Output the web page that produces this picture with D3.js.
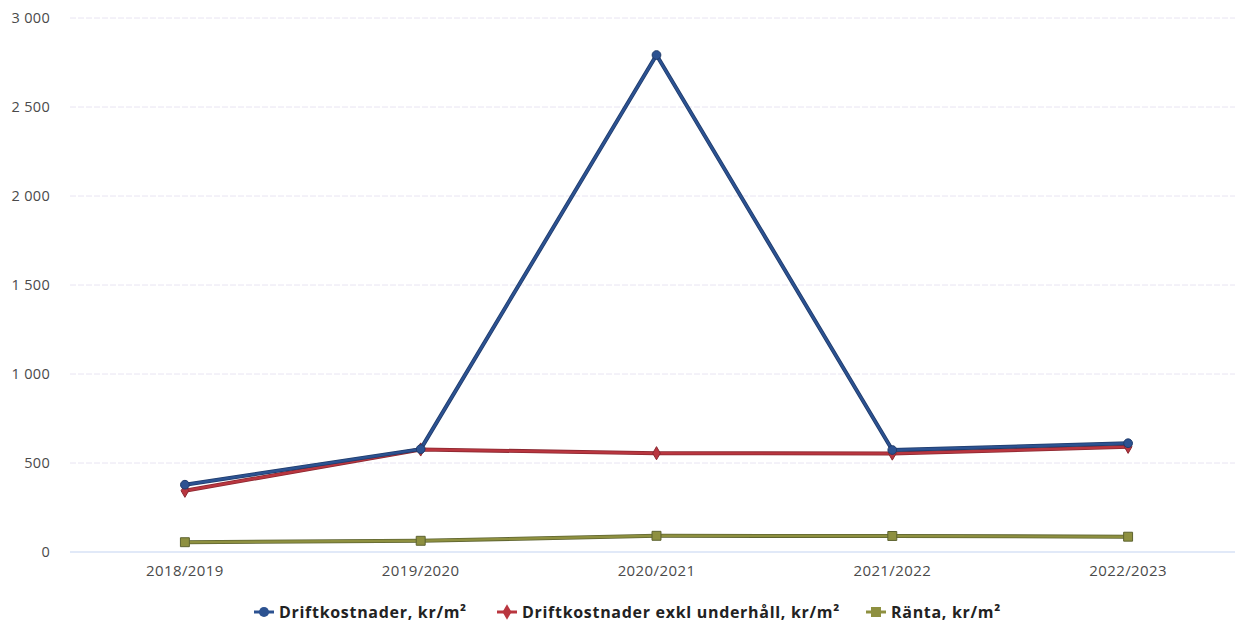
<!DOCTYPE html>
<html>
<head>
<meta charset="utf-8">
<script src="https://cdn.jsdelivr.net/npm/d3@7"></script>
<style>
  html, body { margin: 0; padding: 0; background: #fff; }
  svg { display: block; font-family: "Open Sans", "DejaVu Sans", sans-serif; }
</style>
</head>
<body>
<svg id="chart" width="1239" height="624"></svg>
<script>
// Periods (x axis)
const periods = ["2018/2019", "2019/2020", "2020/2021", "2021/2022", "2022/2023"];

// Series values, kr/m²
const driftkostnader = [378, 578, 2792, 573, 611];
const driftExklUnderhall = [344, 576, 555, 553, 591];
const ranta = [55, 63, 91, 90, 86];

// Y axis ticks
const yTicks = [0, 500, 1000, 1500, 2000, 2500, 3000];

const seriesNames = ["Driftkostnader, kr/m²", "Driftkostnader exkl underhåll, kr/m²", "Ränta, kr/m²"];

const series = [
  { name: seriesNames[0], values: driftkostnader, color: "#2c5291", edge: "#1f3b6b", symbol: d3.symbolCircle, size: 60 },
  { name: seriesNames[1], values: driftExklUnderhall, color: "#b9363f", edge: "#8a2730", symbol: d3.symbolDiamond, size: 50 },
  { name: seriesNames[2], values: ranta, color: "#8e9040", edge: "#5d6330", symbol: d3.symbolSquare, size: 80 }
];

const svg = d3.select("#chart");
const margin = { left: 67, right: 1246, top: 18, bottom: 552 };

const x = d3.scaleBand().domain(periods).range([margin.left, margin.right]);
const xc = d => x(d) + x.bandwidth() / 2;
const y = d3.scaleLinear().domain([0, 3000]).range([margin.bottom, margin.top]);

// Horizontal grid lines
const grid = svg.append("g");
grid.selectAll("line")
  .data(yTicks.filter(t => t > 0))
  .join("line")
  .attr("x1", 70).attr("x2", 1235)
  .attr("y1", d => y(d)).attr("y2", d => y(d))
  .attr("stroke", "#e8e4f2")
  .attr("stroke-width", 1)
  .attr("stroke-dasharray", "6,2");

// Zero baseline
svg.append("line")
  .attr("x1", 70).attr("x2", 1235)
  .attr("y1", y(0)).attr("y2", y(0))
  .attr("stroke", "#c3d3f2").attr("stroke-width", 1.2);

// Y axis labels
const fmt = v => d3.format(",")(v).replace(/,/g, " ");
const yAxis = d3.axisLeft(y).tickValues(yTicks).tickFormat(fmt).tickSize(0).tickPadding(0);
const yG = svg.append("g").attr("transform", "translate(50,0)").call(yAxis);
yG.select(".domain").remove();
yG.selectAll("text")
  .attr("font-size", 14.5).attr("letter-spacing", 0.3)
  .attr("fill", "#4a4a4a").attr("font-family", "\"Open Sans\", sans-serif");

// X axis labels
const xAxis = d3.axisBottom(x).tickSize(0).tickPadding(0);
const xG = svg.append("g").attr("transform", "translate(0,565)").call(xAxis);
xG.select(".domain").remove();
xG.selectAll("text")
  .attr("font-size", 15).attr("letter-spacing", 0.4)
  .attr("fill", "#4a4a4a").attr("font-family", "\"Open Sans\", sans-serif");

// Lines and markers
const line = d3.line().x((d, i) => xc(periods[i])).y(d => y(d));

const order = [2, 1, 0];
order.forEach(k => {
  const s = series[k];
  const g = svg.append("g");
  g.append("path")
    .attr("d", line(s.values))
    .attr("fill", "none")
    .attr("stroke", s.edge)
    .attr("stroke-width", 4)
    .attr("stroke-linejoin", "round");
  g.append("path")
    .attr("d", line(s.values))
    .attr("fill", "none")
    .attr("stroke", s.color)
    .attr("stroke-width", 2.4)
    .attr("stroke-linejoin", "round");
  g.selectAll("path.m")
    .data(s.values)
    .join("path")
    .attr("class", "m")
    .attr("transform", (d, i) => `translate(${xc(periods[i])},${y(d)})`)
    .attr("d", d3.symbol().type(s.symbol).size(s.size))
    .attr("fill", s.color)
    .attr("stroke", s.edge)
    .attr("stroke-width", 1);
});

// Legend
const legendX = [254, 497, 866];
const legend = svg.append("g").attr("transform", "translate(0,612)");
series.forEach((s, i) => {
  const g = legend.append("g").attr("transform", `translate(${legendX[i]},0)`);
  g.append("line").attr("x1", 0).attr("x2", 20).attr("y1", 0).attr("y2", 0)
    .attr("stroke", s.color).attr("stroke-width", 3);
  g.append("path").attr("transform", "translate(10,0)")
    .attr("d", d3.symbol().type(s.symbol).size(s.size + 20))
    .attr("fill", s.color);
  g.append("text")
    .attr("x", 25).attr("y", 0).attr("dy", "0.35em")
    .attr("font-size", 16).attr("font-weight", "bold").attr("letter-spacing", 0.7)
    .attr("fill", "#222")
    .attr("font-family", "\"Open Sans\", sans-serif")
    .text(s.name);
});
</script>
</body>
</html>
